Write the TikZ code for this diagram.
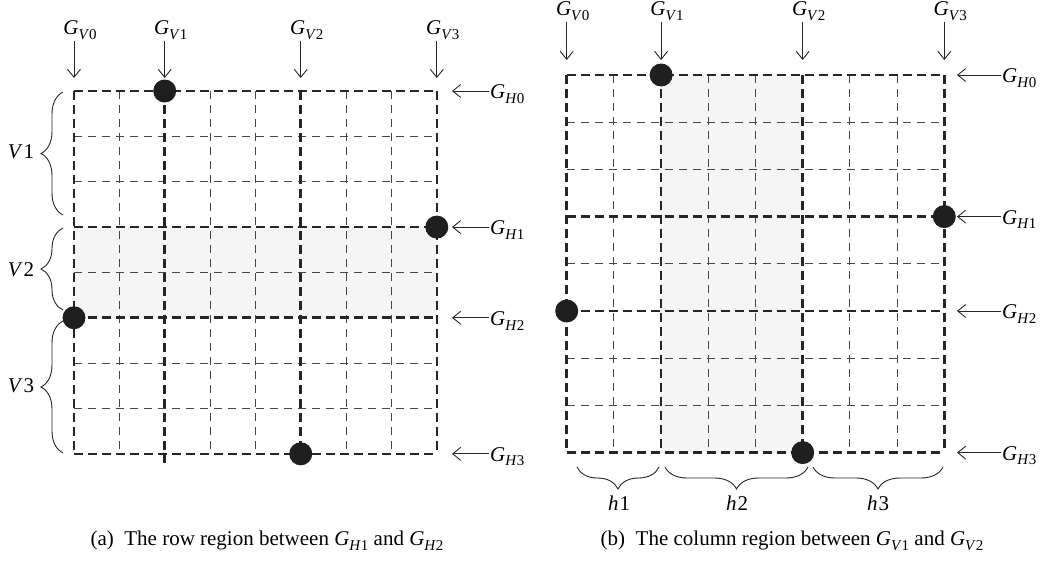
\documentclass[tikz,border=0pt]{standalone}
\usepackage{fontspec}
\setmainfont{Liberation Serif}
\usetikzlibrary{arrows.meta,decorations.pathreplacing}
\newcommand\glab[3]{\textit{#1}\raisebox{-0.22em}{\fontsize{15}{15}\selectfont\textit{#2}#3}}
\newcommand\vlab[2]{\textit{#1}\kern1pt#2}
\begin{document}
\begin{tikzpicture}[x=1pt,y=-1pt, font=\fontsize{21}{24}\selectfont,
 thingrid/.style={draw=black!72, line width=1.1pt, dash pattern=on 8pt off 6pt},
 thickgrid/.style={draw=black!85, line width=2.6pt, dash pattern=on 9pt off 5pt},
 dot/.style={circle, fill=black!88, minimum size=23pt, inner sep=0pt},
 arr/.style={draw=black!85, line width=0.9pt, -{Straight Barb[length=8pt,width=13pt]}},
 brace/.style={draw=black!85, line width=0.9pt, decorate, decoration={brace, amplitude=22pt}},
 shadebox/.style={fill=black!4},
 lbl/.style={inner sep=1pt}
]
\useasboundingbox (0,0) rectangle (1047,563);

% ---------------- Panel (a) ----------------
\def\ax{74}\def\ay{91}\def\ac{45.35}
\fill[shadebox] (\ax,\ay+3*\ac) rectangle (\ax+8*\ac,\ay+5*\ac);
\foreach \i in {1,3,4,6,7}{
  \draw[thingrid] (\ax+\i*\ac,\ay) -- (\ax+\i*\ac,\ay+8*\ac);}
\foreach \j in {1,2,4,6,7}{
  \draw[thingrid] (\ax,\ay+\j*\ac) -- (\ax+8*\ac,\ay+\j*\ac);}
\foreach \i in {0,2,5,8}{
  \draw[thickgrid] (\ax+\i*\ac,\ay) -- (\ax+\i*\ac,\ay+8*\ac);}
\draw[thickgrid] (\ax+2*\ac,\ay+8*\ac) -- (\ax+2*\ac,\ay+8*\ac+10);
\foreach \j in {0,3,5,8}{
  \draw[thickgrid] (\ax,\ay+\j*\ac) -- (\ax+8*\ac,\ay+\j*\ac);}
\node[dot] (ad1) at (\ax+2*\ac,\ay) {};
\node[dot] (ad2) at (\ax+8*\ac,\ay+3*\ac) {};
\node[dot] (ad3) at (\ax,\ay+5*\ac) {};
\node[dot] (ad4) at (\ax+5*\ac,\ay+8*\ac) {};

% top labels and arrows
\foreach \i/\k in {0/0,2/1,5/2,8/3}{
  \coordinate (av\k e) at (\ax+\i*\ac,78);
  \node[lbl,anchor=south] (av\k) at (\ax+\i*\ac+6,41) {\glab{G}{V}{\k}};
  \draw[arr] (av\k e |- av\k.south) -- (av\k e);}
% right labels and arrows
\foreach \j/\k in {0/0,3/1,5/2,8/3}{
  \coordinate (ah\k e) at (452,\ay+\j*\ac);
  \node[lbl,anchor=west] (ah\k) at (489,\ay+\j*\ac+3) {\glab{G}{H}{\k}};
  \draw[arr] (ah\k.west |- ah\k e) -- (ah\k e);}
% braces
\coordinate (b1s) at (63,215); \coordinate (b1e) at (63,92);
\coordinate (b2s) at (63,310); \coordinate (b2e) at (63,228);
\coordinate (b3s) at (63,453); \coordinate (b3e) at (63,321);
\draw[brace] (b1s) -- (b1e);
\draw[brace] (b2s) -- (b2e);
\draw[brace] (b3s) -- (b3e);
\node[lbl] (lv1) at (21,152) {\vlab{V}{1}};
\node[lbl] (lv2) at (21,270) {\vlab{V}{2}};
\node[lbl] (lv3) at (21,386) {\vlab{V}{3}};
\node (capa) at (267,541) {(a)\enspace The row region between \glab{G}{H}{1} and \glab{G}{H}{2}};

% ---------------- Panel (b) ----------------
\def\bx{566.7}\def\by{75}\def\bc{47.2}
\fill[shadebox] (\bx+2*\bc,\by) rectangle (\bx+5*\bc,\by+8*\bc);
\foreach \i in {1,3,4,6,7}{
  \draw[thingrid] (\bx+\i*\bc,\by) -- (\bx+\i*\bc,\by+8*\bc);}
\foreach \j in {1,2,4,6,7}{
  \draw[thingrid] (\bx,\by+\j*\bc) -- (\bx+8*\bc,\by+\j*\bc);}
\foreach \i in {0,2,5,8}{
  \draw[thickgrid] (\bx+\i*\bc,\by) -- (\bx+\i*\bc,\by+8*\bc);}
\foreach \j in {0,3,5,8}{
  \draw[thickgrid] (\bx,\by+\j*\bc) -- (\bx+8*\bc,\by+\j*\bc);}
\node[dot] (bd1) at (\bx+2*\bc,\by) {};
\node[dot] (bd2) at (\bx+8*\bc,\by+3*\bc) {};
\node[dot] (bd3) at (\bx,\by+5*\bc) {};
\node[dot] (bd4) at (\bx+5*\bc,\by+8*\bc) {};

\foreach \i/\k in {0/0,2/1,5/2,8/3}{
  \coordinate (bv\k e) at (\bx+\i*\bc,60);
  \node[lbl,anchor=south] (bv\k) at (\bx+\i*\bc+6,22) {\glab{G}{V}{\k}};
  \draw[arr] (bv\k e |- bv\k.south) -- (bv\k e);}
\foreach \j/\k in {0/0,3/1,5/2,8/3}{
  \coordinate (bh\k e) at (957,\by+\j*\bc);
  \node[lbl,anchor=west] (bh\k) at (1001,\by+\j*\bc+3) {\glab{G}{H}{\k}};
  \draw[arr] (bh\k.west |- bh\k e) -- (bh\k e);}
\coordinate (c1s) at (659,467); \coordinate (c1e) at (577,467);
\coordinate (c2s) at (808,467); \coordinate (c2e) at (665,467);
\coordinate (c3s) at (943,467); \coordinate (c3e) at (813,467);
\draw[brace] (c1s) -- (c1e);
\draw[brace] (c2s) -- (c2e);
\draw[brace] (c3s) -- (c3e);
\node[lbl] (lh1) at (619,503) {\vlab{h}{1}};
\node[lbl] (lh2) at (737,503) {\vlab{h}{2}};
\node[lbl] (lh3) at (878,503) {\vlab{h}{3}};
\node (capb) at (792,541) {(b)\enspace The column region between \glab{G}{V}{1} and \glab{G}{V}{2}};
\end{tikzpicture}
\end{document}
